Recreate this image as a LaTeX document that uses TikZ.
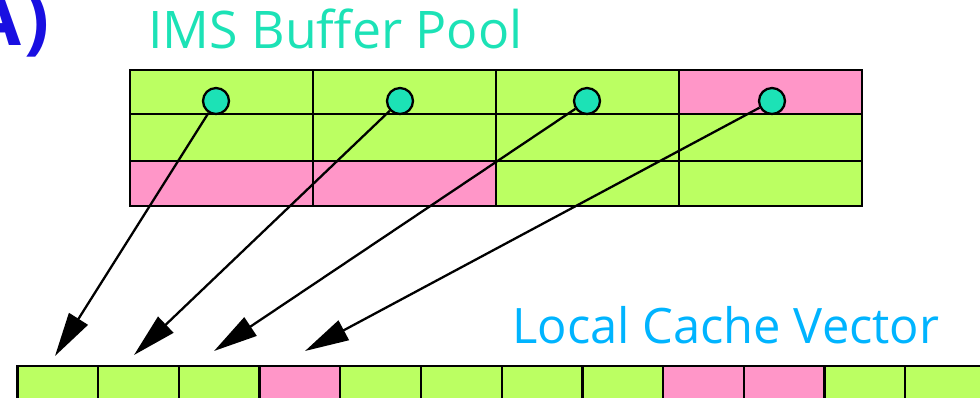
\documentclass[tikz,border=0pt]{standalone}
\usepackage{fontspec}
\setmainfont{Open Sans}
\usetikzlibrary{arrows.meta}
\definecolor{poolgreen}{RGB}{187,255,98}
\definecolor{poolpink}{RGB}{255,150,200}
\definecolor{dotteal}{RGB}{28,226,182}
\definecolor{vecblue}{RGB}{0,180,255}
\definecolor{tagblue}{RGB}{25,15,225}
\tikzset{cell/.style={draw=black, line width=1.3pt},
 dot/.style={circle, draw=black, fill=dotteal, line width=1.3pt, minimum size=5.2mm, inner sep=0pt},
 ptr/.style={line width=1.3pt, -{Triangle[length=8.8mm, width=4.4mm]}},
 headline/.style={anchor=base west, inner sep=0pt},
 }

\begin{document}
\begin{tikzpicture}[x=0.02cm, y=-0.02cm]
        \useasboundingbox (0,0) rectangle (980,397);
        \clip (0,0) rectangle (980,397);

        % titles
        \node[anchor=base east, inner sep=0pt, text=tagblue, font=\fontsize{42}{44}\selectfont\bfseries] (tag) at (50,45) {A\kern2pt)};
        \node[headline, text=dotteal, font=\fontsize{29.5}{31}\selectfont] (pooltitle) at (148,48) {IMS Buffer Pool};
        \node[headline, text=vecblue, font=\fontsize{27.8}{30}\selectfont] (vectitle) at (512,343) {Local Cache Vector};

        % buffer pool
        \fill[poolgreen] (130,70) rectangle (862,206);
        \fill[poolpink] (679,70) rectangle (862,114);
        \fill[poolpink] (130,161) rectangle (496,206);
        \draw[cell] (130,70) rectangle (862,206);
        \draw[cell] (130,114) -- (862,114);
        \draw[cell] (130,161) -- (862,161);
        \draw[cell] (313,70) -- (313,206);
        \draw[cell] (496,70) -- (496,206);
        \draw[cell] (679,70) -- (679,206);

        % local cache vector
        \foreach \i/\c in {0/poolgreen, 1/poolgreen, 2/poolgreen, 3/poolpink, 4/poolgreen, 5/poolgreen,
                           6/poolgreen, 7/poolgreen, 8/poolpink, 9/poolpink, 10/poolgreen, 11/poolgreen, 12/poolgreen}
            \draw[cell, fill=\c] ({17.5+80.7*\i},366) rectangle ({17.5+80.7*(\i+1)},430);

        % pointers
        \node[dot] (c1) at (216,101) {};
        \node[dot] (c2) at (400,101) {};
        \node[dot] (c3) at (587,101) {};
        \node[dot] (c4) at (772,101) {};
        \coordinate (t1) at (55,356);
        \coordinate (t2) at (134,355);
        \coordinate (t3) at (214,351);
        \coordinate (t4) at (305,351);
        \draw[ptr] (c1) -- (t1);
        \draw[ptr] (c2) -- (t2);
        \draw[ptr] (c3) -- (t3);
        \draw[ptr] (c4) -- (t4);
    \end{tikzpicture}
\end{document}
